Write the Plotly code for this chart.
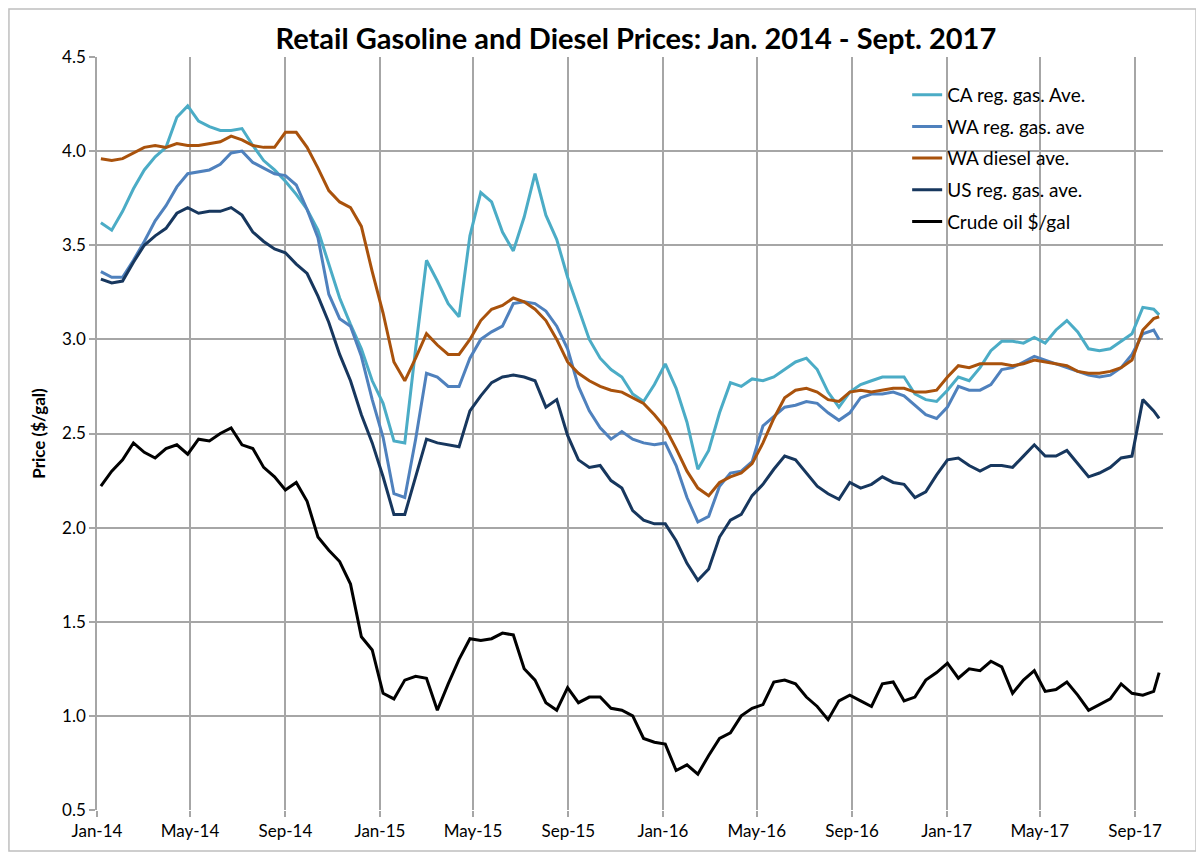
import pandas as pd
import plotly.graph_objects as go

# Dates: bi-weekly observations, plus a final weekly one
dates = list(pd.date_range("2014-01-06", periods=98, freq="14D")) + [pd.Timestamp("2017-10-02")]

ca_gas = [3.62, 3.58, 3.68, 3.80, 3.90, 3.97, 4.02, 4.18, 4.24, 4.16,
          4.13, 4.11, 4.11, 4.12, 4.03, 3.95, 3.90, 3.84, 3.77, 3.69,
          3.58, 3.40, 3.22, 3.08, 2.95, 2.78, 2.66, 2.46, 2.45, 2.95,
          3.42, 3.31, 3.19, 3.12, 3.55, 3.78, 3.73, 3.57, 3.47, 3.65,
          3.88, 3.66, 3.53, 3.33, 3.17, 3.00, 2.90, 2.84, 2.80, 2.71,
          2.67, 2.76, 2.87, 2.74, 2.56, 2.31, 2.41, 2.61, 2.77, 2.75,
          2.79, 2.78, 2.80, 2.84, 2.88, 2.90, 2.84, 2.72, 2.64, 2.72,
          2.76, 2.78, 2.80, 2.80, 2.80, 2.71, 2.68, 2.67, 2.73, 2.80,
          2.78, 2.85, 2.94, 2.99, 2.99, 2.98, 3.01, 2.98, 3.05, 3.10,
          3.04, 2.95, 2.94, 2.95, 2.99, 3.03, 3.17, 3.16, 3.13]

wa_gas = [3.36, 3.33, 3.33, 3.42, 3.52, 3.63, 3.71, 3.81, 3.88, 3.89,
          3.90, 3.93, 3.99, 4.00, 3.94, 3.91, 3.88, 3.87, 3.82, 3.69,
          3.54, 3.24, 3.11, 3.07, 2.91, 2.68, 2.48, 2.18, 2.16, 2.47,
          2.82, 2.80, 2.75, 2.75, 2.90, 3.00, 3.04, 3.07, 3.19, 3.20,
          3.19, 3.15, 3.07, 2.95, 2.75, 2.62, 2.53, 2.47, 2.51, 2.47,
          2.45, 2.44, 2.45, 2.33, 2.16, 2.03, 2.06, 2.22, 2.29, 2.30,
          2.35, 2.54, 2.59, 2.64, 2.65, 2.67, 2.66, 2.61, 2.57, 2.61,
          2.69, 2.71, 2.71, 2.72, 2.70, 2.65, 2.60, 2.58, 2.64, 2.75,
          2.73, 2.73, 2.76, 2.84, 2.85, 2.88, 2.91, 2.89, 2.87, 2.85,
          2.83, 2.81, 2.80, 2.81, 2.85, 2.92, 3.03, 3.05, 3.00]

wa_diesel = [3.96, 3.95, 3.96, 3.99, 4.02, 4.03, 4.02, 4.04, 4.03, 4.03,
             4.04, 4.05, 4.08, 4.06, 4.03, 4.02, 4.02, 4.10, 4.10, 4.02,
             3.91, 3.79, 3.73, 3.70, 3.60, 3.36, 3.14, 2.88, 2.78, 2.90,
             3.03, 2.97, 2.92, 2.92, 3.00, 3.10, 3.16, 3.18, 3.22, 3.20,
             3.16, 3.10, 3.00, 2.88, 2.82, 2.78, 2.75, 2.73, 2.72, 2.69,
             2.66, 2.60, 2.53, 2.42, 2.30, 2.21, 2.17, 2.24, 2.27, 2.29,
             2.34, 2.45, 2.58, 2.69, 2.73, 2.74, 2.72, 2.68, 2.67, 2.72,
             2.73, 2.72, 2.73, 2.74, 2.74, 2.72, 2.72, 2.73, 2.80, 2.86,
             2.85, 2.87, 2.87, 2.87, 2.86, 2.87, 2.89, 2.88, 2.87, 2.86,
             2.83, 2.82, 2.82, 2.83, 2.85, 2.89, 3.05, 3.11, 3.12]

us_gas = [3.32, 3.30, 3.31, 3.41, 3.50, 3.55, 3.59, 3.67, 3.70, 3.67,
          3.68, 3.68, 3.70, 3.66, 3.57, 3.52, 3.48, 3.46, 3.40, 3.35,
          3.23, 3.09, 2.92, 2.78, 2.60, 2.45, 2.27, 2.07, 2.07, 2.27,
          2.47, 2.45, 2.44, 2.43, 2.62, 2.70, 2.77, 2.80, 2.81, 2.80,
          2.78, 2.64, 2.68, 2.49, 2.36, 2.32, 2.33, 2.25, 2.21, 2.09,
          2.04, 2.02, 2.02, 1.93, 1.81, 1.72, 1.78, 1.95, 2.04, 2.07,
          2.17, 2.23, 2.31, 2.38, 2.36, 2.29, 2.22, 2.18, 2.15, 2.24,
          2.21, 2.23, 2.27, 2.24, 2.23, 2.16, 2.19, 2.28, 2.36, 2.37,
          2.33, 2.30, 2.33, 2.33, 2.32, 2.38, 2.44, 2.38, 2.38, 2.41,
          2.34, 2.27, 2.29, 2.32, 2.37, 2.38, 2.68, 2.62, 2.58]

crude = [2.22, 2.30, 2.36, 2.45, 2.40, 2.37, 2.42, 2.44, 2.39, 2.47,
         2.46, 2.50, 2.53, 2.44, 2.42, 2.32, 2.27, 2.20, 2.24, 2.14,
         1.95, 1.88, 1.82, 1.70, 1.42, 1.35, 1.12, 1.09, 1.19, 1.21,
         1.20, 1.03, 1.17, 1.30, 1.41, 1.40, 1.41, 1.44, 1.43, 1.25,
         1.19, 1.07, 1.03, 1.15, 1.07, 1.10, 1.10, 1.04, 1.03, 1.00,
         0.88, 0.86, 0.85, 0.71, 0.74, 0.69, 0.79, 0.88, 0.91, 1.00,
         1.04, 1.06, 1.18, 1.19, 1.17, 1.10, 1.05, 0.98, 1.08, 1.11,
         1.08, 1.05, 1.17, 1.18, 1.08, 1.10, 1.19, 1.23, 1.28, 1.20,
         1.25, 1.24, 1.29, 1.26, 1.12, 1.19, 1.24, 1.13, 1.14, 1.18,
         1.11, 1.03, 1.06, 1.09, 1.17, 1.12, 1.11, 1.13, 1.23]

series_names = ["CA reg. gas. Ave.", "WA reg. gas. ave", "WA diesel ave.",
                "US reg. gas. ave.", "Crude oil $/gal"]
series_values = [ca_gas, wa_gas, wa_diesel, us_gas, crude]
series_colors = ["#4BACC6", "#4F81BD", "#A9520C", "#17375E", "#000000"]

title_text = "Retail Gasoline and Diesel Prices: Jan. 2014 - Sept. 2017"
y_title = "Price ($/gal)"

fig = go.Figure()
for i, (name, vals, col) in enumerate(zip(series_names, series_values, series_colors)):
    fig.add_trace(go.Scatter(
        x=dates, y=vals, name=name, mode="lines",
        line=dict(color=col, width=3),
        legendgroup=f"g{i}",
    ))

font_family = "Lato, 'Open Sans', sans-serif"
grid_col = "#A6A6A6"

fig.update_layout(
    width=1196, height=846,
    margin=dict(l=89, r=41, t=49, b=44),
    paper_bgcolor="white", plot_bgcolor="white",
    font=dict(family=font_family, size=17, color="#404040"),
    title=dict(text=f"<b>{title_text}</b>", x=0.525, xanchor="center",
               y=0.964, yanchor="middle",
               font=dict(family=font_family, size=29, color="#000000")),
    showlegend=True,
    legend=dict(x=0.7600, y=0.975, xanchor="left", yanchor="top",
                bgcolor="rgba(0,0,0,0)", borderwidth=0,
                traceorder="grouped", tracegroupgap=4,
                font=dict(family=font_family, size=19, color="#000000")),
    xaxis=dict(
        type="date", automargin=False,
        range=["2014-01-01", "2017-10-07"],
        tick0="2014-01-01", dtick="M4", tickformat="%b-%y",
        showgrid=True, gridcolor=grid_col, gridwidth=1.5,
        showline=False, zeroline=False,
        ticks="outside", ticklen=6, tickcolor=grid_col, tickwidth=1.5,
        tickfont=dict(family=font_family, size=17, color="#000000"),
    ),
    yaxis=dict(
        automargin=False,
        range=[0.5, 4.5], dtick=0.5, tick0=0.5, tickformat=".1f",
        showgrid=True, gridcolor=grid_col, gridwidth=1.5,
        showline=True, linecolor=grid_col, linewidth=1.5,
        zeroline=False,
        ticks="outside", ticklen=6, tickcolor=grid_col, tickwidth=1.5,
        tickfont=dict(family=font_family, size=17, color="#000000"),
        title=dict(text=f"<b>{y_title}</b>", standoff=12,
                   font=dict(family=font_family, size=17, color="#000000")),
    ),
)

# outer chart border
fig.add_shape(type="rect", xref="paper", yref="paper",
              x0=-0.0826, x1=1.031, y0=-0.0544, y1=1.0637,
              line=dict(color="#BFBFBF", width=1.5), fillcolor="rgba(0,0,0,0)",
              layer="below")

fig.write_html("out.html")
